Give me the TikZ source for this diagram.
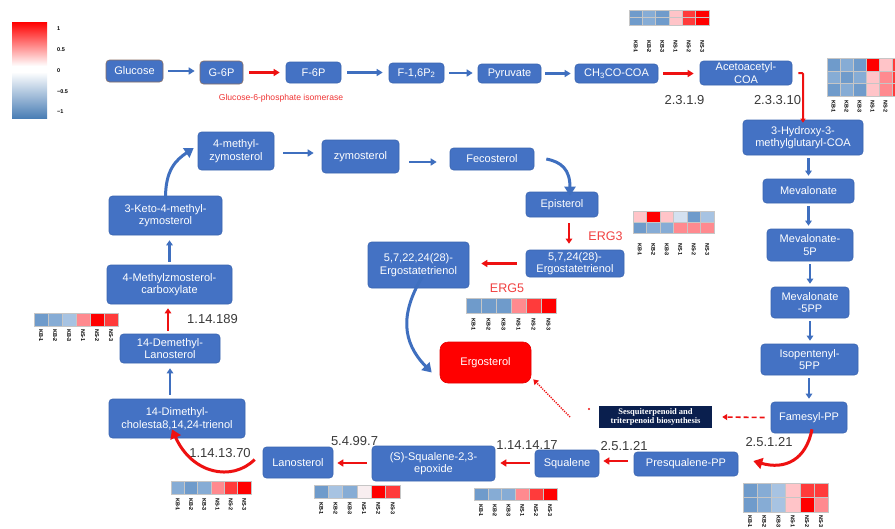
\documentclass[tikz,border=0pt]{standalone}
\usepackage{fontspec}
\setmainfont{Liberation Sans}
\newfontfamily\serifbox{Liberation Serif}
\usetikzlibrary{arrows.meta}
\definecolor{boxblue}{HTML}{4472C4}
\definecolor{boxedge}{HTML}{3A64B0}
\definecolor{brownedge}{HTML}{8A6E62}
\definecolor{arrblue}{HTML}{3F6FBF}
\definecolor{arrred}{HTML}{EE1111}
\definecolor{navy}{HTML}{0A1F4E}
\definecolor{numgray}{HTML}{3A3A3A}
\definecolor{ergred}{HTML}{FF0000}
\definecolor{legblue}{HTML}{4A7EB5}
\definecolor{B1}{HTML}{6F9BCB}
\definecolor{B2}{HTML}{86ACD5}
\definecolor{B3}{HTML}{A7C3E2}
\definecolor{B4}{HTML}{D4E1F0}
\definecolor{W}{HTML}{F8EEF0}
\definecolor{P1}{HTML}{FFC4C8}
\definecolor{P2}{HTML}{FF8A8F}
\definecolor{R1}{HTML}{FF3B3B}
\definecolor{R2}{HTML}{FF0000}
\newcommand\heatmap[6]{%
  \foreach \hrow [count=\hr from 0] in {#5} {
    \foreach \hc [count=\hi from 0] in \hrow {
      \filldraw[fill=\hc, draw=gray!45, line width=0.4pt] (#1+\hi*#3, #2+\hr*#4) rectangle ++(#3,#4);
    }
  }
  \foreach \lab [count=\hi from 0] in {KB-1,KB-2,KB-3,NS-1,NS-2,NS-3}
    \node[hmlab] at (#1+\hi*#3+#3/2, #6) {\lab};
}
\tikzset{
  box/.style={rectangle, rounded corners=3.5pt, fill=boxblue, draw=boxedge, line width=0.6pt,
    text=white, align=center, inner sep=0pt, font=\fontsize{11}{12.5}\selectfont},
  num/.style={text=numgray, inner sep=0pt, font=\fontsize{13}{15}\selectfont},
  erg/.style={text=arrred!80, inner sep=0pt, font=\fontsize{12.5}{14}\selectfont},
  hmlab/.style={rotate=-90, anchor=west, inner sep=0pt, font=\bfseries\fontsize{5.5}{6}\selectfont},
  leglab/.style={anchor=west, inner sep=0pt, font=\bfseries\fontsize{5.5}{6}\selectfont},
  barr/.style={draw=arrblue, line width=2.2pt, -{Triangle[length=6pt,width=7pt]}},
  barrs/.style={draw=arrblue, line width=2.3pt, -{Triangle[length=5pt,width=6.5pt]}},
  rarr/.style={draw=arrred, line width=2.4pt, -{Triangle[length=6pt,width=7pt]}},
  rarrs/.style={draw=arrred, line width=2.3pt, -{Triangle[length=5pt,width=6.5pt]}},
  curveb/.style={draw=arrblue, line width=3pt, -{Triangle[length=9pt,width=11pt]}},
  curver/.style={draw=arrred, line width=3pt, -{Triangle[length=9pt,width=11pt]}},
}
\begin{document}
\begin{tikzpicture}[x=1pt,y=-1pt]
\useasboundingbox (0,0) rectangle (895,528);
\clip (0,0) rectangle (895,528);
\fill[white] (0,0) rectangle (895,528);
% legend
\shade[top color=ergred, bottom color=white] (12,22) rectangle (47,66);
\fill[white] (12,66) rectangle (47,72);
\shade[top color=white, bottom color=legblue] (12,72) rectangle (47,118);
\node[leglab] (l1) at (57,29) {1};
\node[leglab] (l2) at (57,50) {0.5};
\node[leglab] (l3) at (57,71) {0};
\node[leglab] (l4) at (57,92) {\textminus0.5};
\node[leglab] (l5) at (57,112) {\textminus1};
% top row
\node[box, draw=brownedge, minimum width=57, minimum height=22] (glucose) at (134.5,71) {Glucose};
\node[box, draw=brownedge, minimum width=43, minimum height=23] (g6p) at (221.5,72.5) {G-6P};
\node[box, minimum width=55, minimum height=21] (f6p) at (313.5,72.5) {F-6P};
\node[box, minimum width=55, minimum height=20] (f16p) at (416.5,73) {F-1,6P\textsubscript{2}};
\node[box, minimum width=63, minimum height=19] (pyr) at (509.5,73.5) {Pyruvate};
\node[box, minimum width=83, minimum height=19] (ch3) at (616.5,73.5) {CH\textsubscript{3}CO-COA};
\node[box, minimum width=92, minimum height=24] (aceto) at (746,73) {Acetoacetyl-\\COA};
\node[font=\fontsize{8.6}{9}\selectfont, text=arrred!85, inner sep=0pt] (gpi) at (281,98) {Glucose-6-phosphate isomerase};
% right column
\node[box, minimum width=120, minimum height=35] (hmg) at (803,137.5) {3-Hydroxy-3-\\methylglutaryl-COA};
\node[box, minimum width=91, minimum height=24] (mev) at (808.5,191) {Mevalonate};
\node[box, minimum width=86, minimum height=32] (mev5p) at (810,245) {Mevalonate-\\5P};
\node[box, minimum width=78, minimum height=31] (mev5pp) at (810,302.5) {Mevalonate\\-5PP};
\node[box, minimum width=97, minimum height=31] (ipp) at (809.5,359.5) {Isopentenyl-\\5PP};
\node[box, minimum width=76, minimum height=31] (fpp) at (809,417.5) {Famesyl-PP};
\node[rectangle, fill=navy, text=white, align=center, inner sep=0pt, minimum width=113, minimum height=22,
  font=\serifbox\bfseries\fontsize{8.5}{9.5}\selectfont] (sesq) at (655.5,417) {Sesquiterpenoid and\\triterpenoid biosynthesis};
% bottom row
\node[box, minimum width=104, minimum height=24] (presq) at (686,464) {Presqualene-PP};
\node[box, minimum width=64, minimum height=27] (squa) at (567,463.5) {Squalene};
\node[box, minimum width=123, minimum height=35] (epox) at (433.5,463.5) {(S)-Squalene-2,3-\\epoxide};
\node[box, minimum width=70, minimum height=31] (lano) at (298,462.5) {Lanosterol};
% left column
\node[box, minimum width=136, minimum height=39] (dimeth) at (177,418.5) {14-Dimethyl-\\cholesta8,14,24-trienol};
\node[box, minimum width=100, minimum height=29] (demeth) at (170,348.5) {14-Demethyl-\\Lanosterol};
\node[box, minimum width=125, minimum height=39] (carbox) at (169.5,284.5) {4-Methylzmosterol-\\carboxylate};
\node[box, minimum width=113, minimum height=39] (keto) at (165.5,215.5) {3-Keto-4-methyl-\\zymosterol};
\node[box, minimum width=76, minimum height=38] (mzymo) at (236,151) {4-methyl-\\zymosterol};
\node[box, minimum width=77, minimum height=33] (zymo) at (360.5,156.5) {zymosterol};
\node[box, minimum width=84, minimum height=22] (feco) at (492,159) {Fecosterol};
\node[box, minimum width=72, minimum height=25] (epi) at (562,204.5) {Episterol};
\node[box, minimum width=98, minimum height=27] (erg24) at (575,263.5) {5,7,24(28)-\\Ergostatetrienol};
\node[box, minimum width=101, minimum height=46] (erg22) at (418.5,265) {5,7,22,24(28)-\\Ergostatetrienol};
\node[box, fill=ergred, draw=ergred!90!black, rounded corners=8pt, minimum width=91, minimum height=41] (ergo) at (485.5,362.5) {Ergosterol};
% labels
\node[num] (n1) at (684.5,100) {2.3.1.9};
\node[num] (n2) at (777.5,100) {2.3.3.10};
\node[num] (n3) at (212.5,319) {1.14.189};
\node[num] (n4) at (220,453) {1.14.13.70};
\node[num] (n5) at (354.5,441) {5.4.99.7};
\node[num] (n6) at (527,445) {1.14.14.17};
\node[num] (n7) at (624,446) {2.5.1.21};
\node[num] (n8) at (769,442) {2.5.1.21};
\node[erg] (e3) at (605.5,236) {ERG3};
\node[erg] (e5) at (507,288) {ERG5};
% top row arrows
\draw[barr, shorten <=5pt, shorten >=5pt] (glucose.east) -- (glucose.east -| g6p.west);
\draw[rarr, shorten <=6pt, shorten >=6pt] (g6p.east) -- (g6p.east -| f6p.west);
\draw[barr, shorten <=6pt, shorten >=6pt] (f6p.east) -- (f6p.east -| f16p.west);
\draw[barr, shorten <=5pt, shorten >=5pt] (f16p.east) -- (f16p.east -| pyr.west);
\draw[barr, shorten <=4pt, shorten >=4pt] (pyr.east) -- (pyr.east -| ch3.west);
\draw[rarr, shorten <=5pt, shorten >=6pt] (ch3.east) -- (ch3.east -| aceto.west);
\draw[draw=arrred, line width=2pt, -{Triangle[length=4pt,width=5pt]}, rounded corners=1pt]
  ([xshift=6pt]aceto.east) -| ([yshift=-3pt]hmg.north);
% right column arrows
\draw[barrs, shorten <=3pt, shorten >=3pt] (mev.north |- hmg.south) -- (mev.north);
\draw[barrs, shorten <=3pt, shorten >=3pt] (mev.south) -- (mev.south |- mev5p.north);
\draw[barrs, shorten <=3pt, shorten >=3pt] (mev5p.south) -- (mev5pp.north);
\draw[barrs, shorten <=3pt, shorten >=3pt] (mev5pp.south) -- (mev5pp.south |- ipp.north);
\draw[barrs, shorten <=3pt, shorten >=3pt] (fpp.north |- ipp.south) -- (fpp.north);
\draw[draw=arrred, line width=1.6pt, dash pattern=on 5pt off 3pt, -{Triangle[length=5pt,width=6pt]}]
  ([xshift=-6pt]fpp.west) -- ([xshift=10pt]sesq.east);
\fill[arrred] (589,409) circle (1.2);
\coordinate (dstart) at (570,417);
\draw[draw=arrred, line width=1.4pt, dash pattern=on 1.2pt off 1.2pt, -{Triangle[length=5pt,width=6pt]}]
  (dstart) -- ([shift={(2pt,4pt)}]ergo.south east);
\draw[curver] ([shift={(3pt,4pt)}]fpp.south) .. controls (806,460) and (785,470) .. ([shift={(15pt,3pt)}]presq.east);
% bottom row arrows
\draw[rarr, shorten <=6pt, shorten >=4pt] (presq.west |- 0,461) -- (squa.east |- 0,461);
\draw[rarr, shorten <=5pt, shorten >=5pt] (squa.west |- 0,463) -- (epox.east |- 0,463);
\draw[rarr, shorten <=5pt, shorten >=4pt] (epox.west |- 0,463) -- (lano.east |- 0,463);
\draw[curver] ([shift={(-8pt,3pt)}]lano.west) .. controls (232,482) and (192,474) .. ([shift={(-5pt,9pt)}]dimeth.south);
% left column arrows
\draw[barrs, shorten <=4pt, shorten >=5pt] (demeth.south |- dimeth.north) -- (demeth.south);
\draw[rarrs, shorten <=3pt, shorten >=4pt] ([xshift=-2pt]demeth.north) -- ([xshift=-2pt]demeth.north |- carbox.south);
\draw[barrs, shorten <=3pt, shorten >=5pt] (carbox.north) -- (carbox.north |- keto.south);
\draw[curveb] ([yshift=-4pt]keto.north) .. controls (165,170) and (176,160) .. ([shift={(-4pt,3pt)}]mzymo.west);
\draw[barr, shorten <=9pt, shorten >=8pt] (mzymo.east |- 0,153) -- (zymo.west |- 0,153);
\draw[barr, shorten <=10pt, shorten >=13pt] (zymo.east |- 0,162) -- (feco.west |- 0,162);
\draw[curveb] ([xshift=12pt]feco.east) .. controls (562,162) and (570,170) .. ([shift={(8pt,-4pt)}]epi.north);
\draw[rarrs, line width=2.4pt, shorten <=6pt, shorten >=6pt] ([xshift=7pt]epi.south) -- ([xshift=7pt]epi.south |- erg24.north);
\draw[rarr, shorten <=9pt, shorten >=12pt] (erg24.west) -- (erg24.west -| erg22.east);
\draw[curveb] ([shift={(4pt,12pt)}]erg22.south) .. controls (400,314) and (402,342) .. ([shift={(-8pt,-10pt)}]ergo.west);
% heatmaps
\heatmap{629}{10}{13.3}{7.5}{{B1,B2,B1,P1,R1,R2},{B1,B2,B1,P1,R1,R2}}{40}
\heatmap{827}{58}{13}{12.7}{{B1,B2,B1,R2,P1,R1},{B2,B1,B2,P1,P2,R1},{B1,B2,B1,P1,P2,R1}}{100}
\heatmap{633}{211}{13.5}{11}{{P1,R2,P1,B4,B1,B3},{B1,B2,B2,P2,P2,P2}}{243}
\heatmap{466}{298}{15}{15}{{B1,B1,B1,P2,R1,R2}}{318}
\heatmap{34}{313}{14}{13}{{B1,B2,B3,P2,R2,R1}}{329}
\heatmap{171}{481}{13.3}{13}{{B2,B1,B2,P2,R1,R2}}{498}
\heatmap{314}{485}{14.3}{13}{{B1,B3,B2,W,R2,R1}}{502}
\heatmap{474}{488}{13.8}{12}{{B1,B2,B2,P2,R1,R2}}{504}
\heatmap{743}{483}{14.2}{14.5}{{B1,B2,B3,P1,R1,R1},{B1,B2,B3,P1,R2,P2}}{515}
\end{tikzpicture}
\end{document}
